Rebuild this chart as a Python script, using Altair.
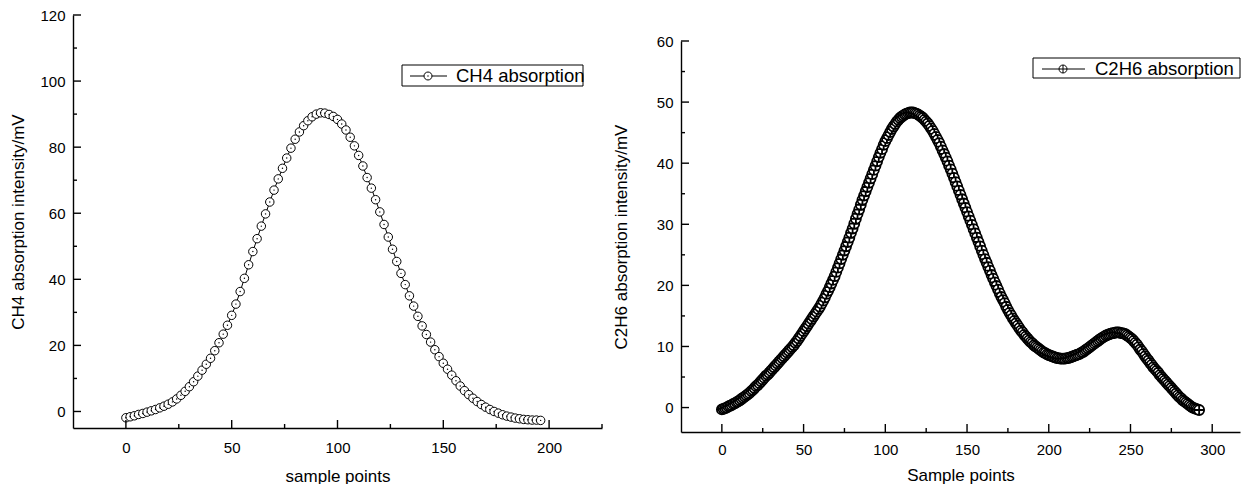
import altair as alt
import pandas as pd

FONT = "Liberation Sans"

# ---------------- data ----------------
ch4_x = list(range(0, 197, 2))
ch4_y = [-1.9, -1.6, -1.3, -0.9, -0.6, -0.2, 0.2, 0.6, 1.1, 1.6,
         2.2, 2.9, 3.8, 4.9, 6.1, 7.5, 9.0, 10.7, 12.5, 14.3,
         16.1, 18.4, 20.8, 23.4, 26.1, 29.1, 32.5, 36.3, 40.3, 44.4,
         48.4, 52.3, 56.1, 59.8, 63.4, 67.0, 70.4, 73.6, 76.7, 79.7,
         82.4, 84.6, 86.5, 88.0, 89.2, 90.0, 90.4, 90.3, 89.9, 89.3,
         88.4, 87.0, 85.2, 83.0, 80.4, 77.5, 74.3, 70.8, 67.6, 64.1,
         60.4, 56.6, 52.8, 49.1, 45.4, 41.8, 38.4, 35.0, 31.9, 28.8,
         25.9, 23.3, 21.0, 18.7, 16.6, 14.6, 12.8, 11.0, 9.3, 7.7,
         6.3, 5.1, 4.0, 3.0, 2.1, 1.3, 0.6, 0.0, -0.5, -1.0,
         -1.4, -1.7, -2.0, -2.2, -2.4, -2.5, -2.6, -2.6, -2.7]
ch4_label = "CH4 absorption"

c2h6_x = list(range(0, 293))
c2h6_y = [-0.3, -0.2, -0.1, 0.0, 0.2, 0.3, 0.4, 0.6, 0.7, 0.9,
          1.0, 1.2, 1.4, 1.6, 1.8, 2.0, 2.2, 2.4, 2.7, 2.9,
          3.2, 3.5, 3.7, 4.0, 4.3, 4.6, 4.9, 5.2, 5.4, 5.7,
          6.0, 6.3, 6.6, 6.9, 7.2, 7.5, 7.8, 8.1, 8.4, 8.7,
          9.0, 9.3, 9.6, 9.9, 10.2, 10.6, 10.9, 11.3, 11.7, 12.1,
          12.5, 12.9, 13.3, 13.7, 14.1, 14.5, 14.9, 15.3, 15.7, 16.1,
          16.5, 17.0, 17.5, 18.0, 18.6, 19.1, 19.7, 20.3, 20.9, 21.5,
          22.2, 22.9, 23.6, 24.3, 25.0, 25.7, 26.4, 27.1, 27.8, 28.6,
          29.3, 30.1, 30.9, 31.7, 32.4, 33.2, 34.0, 34.7, 35.4, 36.1,
          36.8, 37.5, 38.2, 38.9, 39.6, 40.3, 41.0, 41.7, 42.3, 43.0,
          43.6, 44.1, 44.6, 45.1, 45.6, 46.0, 46.4, 46.8, 47.1, 47.4,
          47.6, 47.8, 48.0, 48.1, 48.2, 48.3, 48.3, 48.3, 48.2, 48.1,
          48.0, 47.8, 47.6, 47.4, 47.1, 46.8, 46.5, 46.1, 45.7, 45.3,
          44.8, 44.3, 43.8, 43.3, 42.7, 42.1, 41.5, 40.9, 40.3, 39.6,
          39.0, 38.3, 37.6, 36.9, 36.2, 35.5, 34.8, 34.1, 33.4, 32.7,
          32.0, 31.3, 30.6, 29.9, 29.2, 28.5, 27.8, 27.1, 26.4, 25.7,
          25.0, 24.3, 23.7, 23.0, 22.4, 21.7, 21.1, 20.5, 19.9, 19.3,
          18.7, 18.1, 17.6, 17.1, 16.5, 16.0, 15.5, 15.1, 14.6, 14.2,
          13.8, 13.4, 13.0, 12.6, 12.3, 11.9, 11.6, 11.3, 11.0, 10.7,
          10.5, 10.2, 10.0, 9.8, 9.6, 9.4, 9.2, 9.0, 8.9, 8.7,
          8.6, 8.5, 8.4, 8.3, 8.2, 8.1, 8.1, 8.0, 8.0, 8.0,
          8.0, 8.1, 8.1, 8.2, 8.3, 8.4, 8.5, 8.6, 8.7, 8.8,
          9.0, 9.1, 9.3, 9.5, 9.7, 9.9, 10.1, 10.3, 10.5, 10.7,
          10.9, 11.1, 11.3, 11.5, 11.6, 11.8, 11.9, 12.0, 12.1, 12.2,
          12.2, 12.3, 12.3, 12.3, 12.2, 12.2, 12.1, 12.0, 11.8, 11.6,
          11.4, 11.2, 10.9, 10.6, 10.3, 9.9, 9.5, 9.2, 8.8, 8.4,
          8.0, 7.7, 7.3, 7.0, 6.6, 6.3, 6.0, 5.7, 5.3, 5.0,
          4.7, 4.4, 4.1, 3.8, 3.5, 3.2, 2.9, 2.6, 2.3, 2.0,
          1.7, 1.5, 1.2, 1.0, 0.8, 0.6, 0.4, 0.2, 0.0, -0.1,
          -0.2, -0.3, -0.4]
c2h6_label = "C2H6 absorption"

# axis tick values
left_xmaj = [0, 50, 100, 150, 200]
left_xmin = [25, 75, 125, 175, 225]
left_ymaj = [0, 20, 40, 60, 80, 100, 120]
left_ymin = [10, 30, 50, 70, 90, 110]
right_xmaj = [0, 50, 100, 150, 200, 250, 300]
right_xmin = [25, 75, 125, 175, 225, 275]
right_ymaj = [0, 10, 20, 30, 40, 50, 60]
right_ymin = [5, 15, 25, 35, 45, 55]

CROSS_CIRCLE = "M-1,0A1,1,0,1,1,1,0A1,1,0,1,1,-1,0Z M-1,0L1,0 M0,-1L0,1"
LEG_CIRCLE = "M-1,0A1,1,0,1,1,1,0A1,1,0,1,1,-1,0Z"


def panel(xs, ys, label, xdom, ydom, xmaj, xmin, ymaj, ymin, w, h,
          xtitle, ytitle, ytpad, xlpad, xtpad, shape, dot, psize, pstroke, leg):
    df = pd.DataFrame({"x": xs, "y": ys})
    xsc = alt.Scale(domain=xdom, nice=False, zero=False)
    ysc = alt.Scale(domain=ydom, nice=False, zero=False)
    common = dict(format="d", ticks=False, tickSize=0, grid=False,
                  domainColor="black", domainWidth=1.4,
                  labelFont=FONT, labelFontSize=15, labelColor="black",
                  titleFont=FONT, titleFontSize=17, titleFontWeight="normal",
                  titleColor="black")
    xax = alt.Axis(values=xmaj, title=xtitle, labelPadding=xlpad,
                   titlePadding=xtpad, **common)
    yax = alt.Axis(values=ymaj, title=ytitle, labelPadding=8,
                   titlePadding=ytpad, **common)
    X = alt.X("x:Q", scale=xsc, axis=xax)
    Y = alt.Y("y:Q", scale=ysc, axis=yax)
    base = alt.Chart(df)
    line = base.mark_line(color="black", strokeWidth=1).encode(x=X, y=Y)
    pts = base.mark_point(shape=shape, filled=False, fill="white", fillOpacity=1,
                          stroke="black", strokeWidth=pstroke, size=psize,
                          opacity=1).encode(x=X, y=Y)
    layers = [line, pts]
    if dot:
        layers.append(base.mark_circle(color="black", size=2, opacity=1).encode(x=X, y=Y))

    def xticks(vals, length):
        return alt.Chart(pd.DataFrame({"x": vals})).mark_rule(
            color="black", strokeWidth=1.4).encode(
            x=X, y=alt.value(h), y2=alt.value(h - length))

    def yticks(vals, length):
        return alt.Chart(pd.DataFrame({"y": vals})).mark_rule(
            color="black", strokeWidth=1.4).encode(
            y=Y, x=alt.value(0), x2=alt.value(length))

    layers += [xticks(xmaj, 8), xticks(xmin, 4), yticks(ymaj, 8), yticks(ymin, 4)]
    # legend box
    ldf = pd.DataFrame({"t": [label]})
    bx0, bx1, by0, by1, lx0, lx1, cx, cy, tx, ty = leg
    lb = alt.Chart(ldf)
    layers.append(lb.mark_rect(fill="white", stroke="black", strokeWidth=1).encode(
        x=alt.value(bx0), x2=alt.value(bx1), y=alt.value(by0), y2=alt.value(by1)))
    layers.append(lb.mark_rule(color="black", strokeWidth=1).encode(
        x=alt.value(lx0), x2=alt.value(lx1), y=alt.value(cy)))
    layers.append(lb.mark_point(shape=shape, filled=False, fill="white", fillOpacity=1,
                                stroke="black", strokeWidth=1, size=64, opacity=1).encode(
        x=alt.value(cx), y=alt.value(cy)))
    if dot:
        layers.append(lb.mark_circle(color="black", size=2, opacity=1).encode(
            x=alt.value(cx), y=alt.value(cy)))
    layers.append(lb.mark_text(align="left", baseline="alphabetic", font=FONT,
                               fontSize=18.5, color="black").encode(
        x=alt.value(tx), y=alt.value(ty), text="t:N"))
    return alt.layer(*layers).properties(width=w, height=h)


left = panel(ch4_x, ch4_y, ch4_label, [-25, 225], [-5, 120],
             left_xmaj, left_xmin, left_ymaj, left_ymin, 529, 413,
             "sample points", "CH4 absorption intensity/mV", 12, 12, 13,
             LEG_CIRCLE, True, 72, 1,
             (329, 510, 50, 71, 337, 374, 355, 61, 383, 67))

right = panel(c2h6_x, c2h6_y, c2h6_label, [-25, 317], [-4, 60],
              right_xmaj, right_xmin, right_ymaj, right_ymin, 559, 391,
              "Sample points", "C2H6 absorption intensity/mV", 26, 10, 10,
              CROSS_CIRCLE, False, 100, 1.8,
              (352, 559, 17, 37, 361, 404, 382, 28, 414, 34))

spacer = alt.Chart(pd.DataFrame({"t": [""]})).mark_text(opacity=0).encode(
    x=alt.value(0), y=alt.value(0), text="t:N").properties(width=1, height=19)

chart = alt.hconcat(left, alt.vconcat(spacer, right, spacing=0), spacing=9).properties(
    padding={"left": 1, "top": 0, "right": 0, "bottom": 0},
    background="white"
).configure_view(strokeWidth=0, stroke="transparent")

chart.save("out.html", embed_options={"renderer": "svg", "actions": False})
